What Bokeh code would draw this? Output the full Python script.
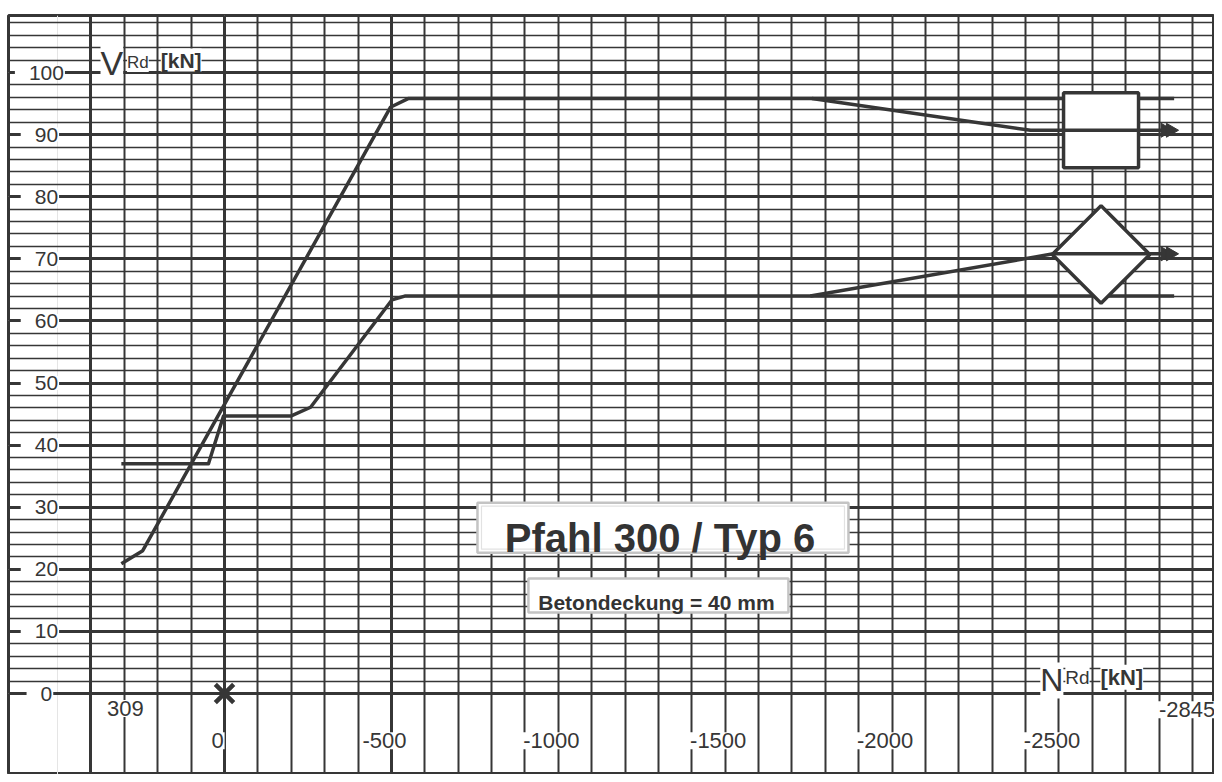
from math import pi
from bokeh.plotting import figure
from bokeh.models import Range1d, Grid, FixedTicker
from bokeh.embed import file_html
from bokeh.resources import INLINE
from bokeh.core.properties import value

# ---------------- data (N_Rd in kN, V_Rd in kN) ----------------
upper_N = [309, 245, -497, -550, -2845]
upper_V = [20.9, 23.0, 94.4, 95.8, 95.8]
upper_branch_N = [-1760, -2415, -2815]
upper_branch_V = [95.8, 90.7, 90.7]

lower_N = [309, 48, 3, -200, -258, -502, -540, -2845]
lower_V = [37.0, 37.0, 44.7, 44.7, 46.1, 63.4, 64.0, 64.0]
lower_branch_N = [-1755, -2483, -2815]
lower_branch_V = [64.0, 70.8, 70.8]

marker_N = [-2626, -2626]
marker_V = [90.7, 70.7]
arrow_N = [-2818, -2818]
arrow_V = [90.7, 70.8]
origin_N = [0]
origin_V = [0]

ytick_vals = [0, 10, 20, 30, 40, 50, 60, 70, 80, 90, 100]
ytick_labels = ["0", "10", "20", "30", "40", "50", "60", "70", "80", "90", "100"]
xtick_vals = [0, -500, -1000, -1500, -2000, -2500]
xtick_labels = ["0", "-500", "-1000", "-1500", "-2000", "-2500"]
xend_vals = [309, -2845]
xend_labels = ["309", "-2845"]

INK = "#363636"
FONT = value("Liberation Sans")

p = figure(width=1214, height=774,
           x_range=Range1d(647.1, -2965.9), y_range=Range1d(-13.04, 109.18),
           x_axis_location=None, y_axis_location=None,
           toolbar_location=None, output_backend="svg",
           min_border_left=8, min_border_right=0, min_border_bottom=0, min_border_top=15,
           background_fill_color="white", border_fill_color="white",
           outline_line_color=INK, outline_line_width=3)

# grid (paper)
vt = list(range(400, -2901, -100))
vgrid = Grid(dimension=0, ticker=FixedTicker(ticks=vt), grid_line_color=INK, grid_line_width=2)
vgrid_major = Grid(dimension=0, ticker=FixedTicker(ticks=[400, 0, -500]), grid_line_color=INK, grid_line_width=3)
hminor = Grid(dimension=1, ticker=FixedTicker(ticks=[v for v in range(0, 110, 2) if v % 10]),
              grid_line_color=INK, grid_line_width=1.6)
hmajor = Grid(dimension=1, ticker=FixedTicker(ticks=ytick_vals), grid_line_color=INK, grid_line_width=2.8)
for g in (vgrid, vgrid_major, hminor, hmajor):
    p.add_layout(g)

# curves
p.line(upper_N, upper_V, line_color=INK, line_width=3.5, line_join="round")
p.line(lower_N, lower_V, line_color=INK, line_width=3.5, line_join="round")

# legend-like end markers
p.scatter(marker_N[:1], marker_V[:1], marker="square", size=75, fill_color="white",
          line_color=INK, line_width=3.5)
p.scatter(marker_N[1:], marker_V[1:], marker="square", angle=pi / 4, size=69, fill_color="white",
          line_color=INK, line_width=3.5)

p.line(upper_branch_N, upper_branch_V, line_color=INK, line_width=3.5, line_join="round")
p.line(lower_branch_N, lower_branch_V, line_color=INK, line_width=3.5, line_join="round")

p.scatter(arrow_N, arrow_V, marker="triangle", angle=-pi / 2, size=14, fill_color=INK, line_color=INK)
p.scatter([n - 16 for n in arrow_N], arrow_V, marker="triangle", angle=-pi / 2, size=14,
          fill_color=INK, line_color=INK)

# origin cross
p.scatter(origin_N, origin_V, marker="x", size=26, line_width=4.5, line_color=INK)

# y tick labels
p.text(x=[553] * len(ytick_vals), y=ytick_vals, text=ytick_labels, text_font=FONT,
       text_font_size="21px", text_color=INK, text_align="center", text_baseline="middle",
       background_fill_color="white", padding=dict(left=14, right=1, top=0, bottom=0))

# x tick labels
p.text(x=xtick_vals, y=[-7.6] * len(xtick_vals), text=xtick_labels, text_font=FONT,
       text_font_size="22px", text_color=INK, text_align="center", text_baseline="middle",
       x_offset=-7, background_fill_color="white", padding=1)
p.text(x=xend_vals[:1], y=[-2.4], text=xend_labels[:1], text_font=FONT,
       text_font_size="22px", text_color=INK, text_align="center", text_baseline="middle",
       x_offset=4, background_fill_color="white", padding=1)
p.text(x=xend_vals[1:], y=[-2.6], text=xend_labels[1:], text_font=FONT,
       text_font_size="22px", text_color=INK, text_align="center", text_baseline="middle",
       x_offset=13, background_fill_color="white", padding=1)

# axis titles
p.text(x=[371.5], y=[101.6], text=["V"], text_font=FONT, text_font_size="34px", text_color=INK,
       text_align="left", text_baseline="alphabetic", background_fill_color="white")
p.text(x=[292], y=[101.6], text=["Rd"], text_font=FONT, text_font_size="17px", text_color=INK,
       text_align="left", text_baseline="alphabetic", background_fill_color="white")
p.text(x=[191], y=[102.0], text=["[kN]"], text_font=FONT, text_font_size="21px", text_font_style="bold",
       text_color=INK, text_align="left", text_baseline="alphabetic", background_fill_color="white")

p.text(x=[-2444], y=[2.1], text=["N"], text_font=FONT, text_font_size="32px", text_color=INK,
       text_align="left", text_baseline="alphabetic", background_fill_color="white")
p.text(x=[-2519], y=[2.6], text=["Rd"], text_font=FONT, text_font_size="19px", text_color=INK,
       text_align="left", text_baseline="alphabetic", background_fill_color="white")
p.text(x=[-2624], y=[2.6], text=["[kN]"], text_font=FONT, text_font_size="22px", text_font_style="bold",
       text_color=INK, text_align="left", text_baseline="alphabetic", background_fill_color="white")

# title boxes
p.rect(x=[-1313.6], y=[26.7], width=371, height=50, width_units="screen", height_units="screen",
       fill_color="white", line_color="#c4c4c4", line_width=2.5)
p.rect(x=[-1313.6], y=[26.7], width=363, height=43, width_units="screen", height_units="screen",
       fill_color="white", line_color="#e2e2e2", line_width=1.2)
p.text(x=[-1305], y=[25.1], text=["Pfahl 300 / Typ 6"], text_font=FONT, text_font_size="40px",
       text_font_style="bold", text_color="#333333", text_align="center", text_baseline="alphabetic")

p.rect(x=[-1300], y=[15.78], width=260, height=34, width_units="screen", height_units="screen",
       fill_color="white", line_color="#c4c4c4", line_width=2.5)
p.text(x=[-1294], y=[14.65], text=["Betondeckung = 40 mm"], text_font=FONT, text_font_size="21px",
       text_font_style="bold", text_color="#333333", text_align="center", text_baseline="alphabetic")

open("out.html", "w").write(file_html(p, INLINE))
